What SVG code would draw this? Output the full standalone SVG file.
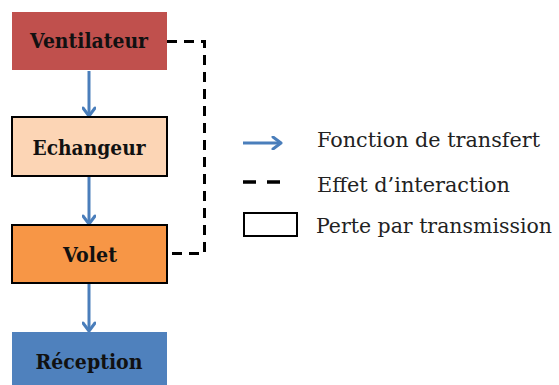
<svg xmlns="http://www.w3.org/2000/svg" width="559" height="385" viewBox="0 0 559 385">
<defs>
<marker id="ah" viewBox="0 0 12 14" refX="10" refY="7" markerWidth="12" markerHeight="14" markerUnits="userSpaceOnUse" orient="auto">
<path d="M2,1 L10,7 L2,13" fill="none" stroke="#4a7ebb" stroke-width="3" stroke-linecap="round" stroke-linejoin="round"/>
</marker>
</defs>
<style>
.lbl{font-family:'DejaVu Serif',serif;font-weight:bold;font-size:20px;fill:#111;text-anchor:middle}
.leg{font-family:'DejaVu Serif',serif;font-size:21px;fill:#222}
.flow{stroke:#4a7ebb;stroke-width:3;fill:none}
.dash{stroke:#000;stroke-width:3;fill:none;stroke-dasharray:10 7}
</style>
<rect width="559" height="385" fill="#fff"/>
<g id="connectors">
<line class="flow" x1="89" y1="71" x2="89" y2="116" marker-end="url(#ah)"/>
<line class="flow" x1="89" y1="177" x2="89" y2="224" marker-end="url(#ah)"/>
<line class="flow" x1="89" y1="284" x2="89" y2="331" marker-end="url(#ah)"/>
<polyline class="dash" points="167,41.5 204.5,41.5 204.5,253.5 167,253.5"/>
</g>
<g id="ventilateur">
<rect x="12" y="12" width="155" height="58" fill="#c0504d"/>
<text class="lbl" x="89" y="48" textLength="118" lengthAdjust="spacingAndGlyphs">Ventilateur</text>
</g>
<g id="echangeur">
<rect x="12" y="117" width="155" height="59" fill="#fcd5b5" stroke="#000" stroke-width="2"/>
<text class="lbl" x="89" y="155" textLength="113" lengthAdjust="spacingAndGlyphs">Echangeur</text>
</g>
<g id="volet">
<rect x="12" y="225" width="155" height="58" fill="#f79646" stroke="#000" stroke-width="2"/>
<text class="lbl" x="90" y="262" textLength="54" lengthAdjust="spacingAndGlyphs">Volet</text>
</g>
<g id="reception">
<rect x="12" y="332" width="155" height="60" fill="#4f81bd"/>
<text class="lbl" x="89" y="369" textLength="107" lengthAdjust="spacingAndGlyphs">Réception</text>
</g>
<g id="legend">
<line class="flow" x1="243" y1="143" x2="281" y2="143" marker-end="url(#ah)"/>
<text class="leg" x="317" y="147" textLength="223" lengthAdjust="spacingAndGlyphs">Fonction de transfert</text>
<line x1="243" y1="182" x2="281" y2="182" stroke="#000" stroke-width="3.5" stroke-dasharray="13 11"/>
<text class="leg" x="317" y="192" textLength="193" lengthAdjust="spacingAndGlyphs">Effet d’interaction</text>
<rect x="244" y="213" width="53" height="23" fill="#fff" stroke="#000" stroke-width="2"/>
<text class="leg" x="316" y="233" font-size="19" textLength="236" lengthAdjust="spacingAndGlyphs" style="font-size:19.5px">Perte par transmission</text>
</g>
</svg>
